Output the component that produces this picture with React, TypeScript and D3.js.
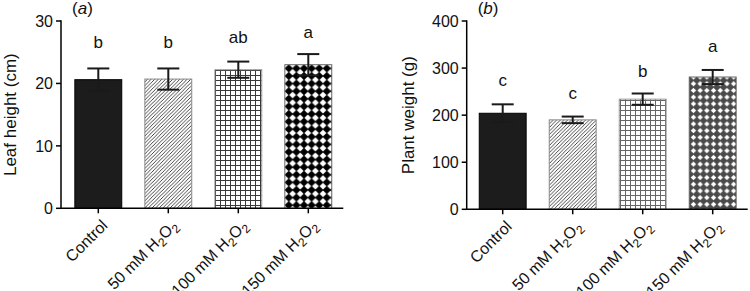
import React from "react";
import * as d3 from "d3";

const categories = ["Control", "50 mM H2O2", "100 mM H2O2", "150 mM H2O2"];
const leafMeans = [20.6, 20.7, 22.2, 23.0];
const leafErr = [1.8, 1.7, 1.3, 1.7];
const leafLetters = ["b", "b", "ab", "a"];
const leafLetterY = [25.6, 25.6, 26.4, 27.2];
const leafTicks = [0, 10, 20, 30];

const weightMeans = [204, 190, 234, 281];
const weightErr = [19, 7, 12, 15];
const weightLetters = ["c", "c", "b", "a"];
const weightLetterY = [262, 234, 281.5, 335];
const weightTicks = [0, 100, 200, 300, 400];

const FONT = "'Liberation Sans', Arial, Helvetica, sans-serif";

type PanelProps = {
  id: string;
  tag: string;
  yLabel: string;
  means: number[];
  errs: number[];
  letters: string[];
  letterY: number[];
  ticks: number[];
  yMax: number;
  axisX: number;
  xRange: [number, number];
  yRange: [number, number];
  labelX: number;
  diamondBg: string;
  diamondSize: number;
  diamondFrac: number;
  gridColor: string;
};

function CatLabel({ name }: { name: string }) {
  if (name.indexOf("H2O2") < 0) return <>{name}</>;
  const pre = name.replace("H2O2", "");
  return (
    <>
      {pre}H
      <tspan dy="4" fontSize="12">2</tspan>
      <tspan dy="-4">O</tspan>
      <tspan dy="4" fontSize="12">2</tspan>
    </>
  );
}

function Panel(p: PanelProps) {
  const x = d3
    .scaleBand<string>()
    .domain(categories)
    .range(p.xRange)
    .paddingInner(0.33)
    .paddingOuter(0.165);
  const y = d3.scaleLinear().domain([0, p.yMax]).range(p.yRange);
  const y0 = y(0);
  const bw = x.bandwidth();
  const fills = [
    "#1c1c1c",
    `url(#hatch-${p.id})`,
    `url(#grid-${p.id})`,
    `url(#diam-${p.id})`,
  ];
  const strokes = ["#000", "#888", "#999", "#666"];
  const ds = p.diamondSize;
  const r = ds * p.diamondFrac;
  return (
    <g>
      <defs>
        <pattern id={`hatch-${p.id}`} patternUnits="userSpaceOnUse" width="3.6" height="3.6">
          <rect width="3.6" height="3.6" fill="#fff" />
          <path d="M-1,1 l2,-2 M0,3.6 l3.6,-3.6 M2.6,4.6 l2,-2" stroke="#333" strokeWidth="0.9" />
        </pattern>
        <pattern id={`grid-${p.id}`} patternUnits="userSpaceOnUse" width="5" height="5">
          <rect width="5" height="5" fill="#fff" />
          <path d="M0,0.5 H5 M0.5,0 V5" stroke={p.gridColor} strokeWidth="1" />
        </pattern>
        <pattern id={`diam-${p.id}`} patternUnits="userSpaceOnUse" width={ds} height={ds}>
          <rect width={ds} height={ds} fill={p.diamondBg} />
          <polygon
            points={`${ds / 2},${ds / 2 - r} ${ds / 2 + r},${ds / 2} ${ds / 2},${ds / 2 + r} ${ds / 2 - r},${ds / 2}`}
            fill="#fff"
          />
        </pattern>
      </defs>
      {categories.map((c, i) => {
        const bx = x(c)!;
        const top = y(p.means[i]);
        return (
          <rect key={c} x={bx} y={top} width={bw} height={y0 - top} fill={fills[i]} stroke={strokes[i]} strokeWidth={1} />
        );
      })}
      {categories.map((c, i) => {
        const cx = x(c)! + bw / 2;
        const hi = y(p.means[i] + p.errs[i]);
        const lo = y(p.means[i] - p.errs[i]);
        return (
          <g key={c} stroke="#1a1a1a" strokeWidth={2}>
            <line x1={cx} x2={cx} y1={hi} y2={lo} />
            <line x1={cx - 11} x2={cx + 11} y1={hi} y2={hi} />
            <line x1={cx - 11} x2={cx + 11} y1={lo} y2={lo} />
          </g>
        );
      })}
      {categories.map((c, i) => (
        <text key={c} x={x(c)! + bw / 2} y={y(p.letterY[i])} textAnchor="middle" fontSize="17" fontFamily={FONT} fill="#111">
          {p.letters[i]}
        </text>
      ))}
      {/* y axis */}
      <line x1={p.axisX} x2={p.axisX} y1={y(p.yMax) - 0.75} y2={y0 + 0.75} stroke="#000" strokeWidth={1.5} />
      {p.ticks.map((t) => (
        <g key={t}>
          <line x1={p.axisX - 5} x2={p.axisX} y1={y(t)} y2={y(t)} stroke="#000" strokeWidth={1.5} />
          <text x={p.axisX - 8} y={y(t)} dy="0.36em" textAnchor="end" fontSize="16" fontFamily={FONT} fill="#111">
            {t}
          </text>
        </g>
      ))}
      {/* x axis */}
      <line x1={p.axisX} x2={p.xRange[1]} y1={y0} y2={y0} stroke="#000" strokeWidth={1.5} />
      {categories.map((c) => {
        const cx = x(c)! + bw / 2;
        return (
          <g key={c}>
            <line x1={cx} x2={cx} y1={y0} y2={y0 + 5} stroke="#000" strokeWidth={1.5} />
            <text
              transform={`translate(${cx + 2},${y0 + 10}) rotate(-45)`}
              textAnchor="end"
              dy="0.72em"
              fontSize="16"
              fontFamily={FONT}
              fill="#111"
            >
              <CatLabel name={c} />
            </text>
          </g>
        );
      })}
      <text
        transform={`translate(${p.labelX},${(y(p.yMax) + y0) / 2}) rotate(-90)`}
        textAnchor="middle"
        dy="0.35em"
        fontSize="17"
        fontFamily={FONT}
        fill="#111"
      >
        {p.yLabel}
      </text>
      <text x={p.axisX + 11} y={14} fontSize="17" fontFamily={FONT} fill="#111">
        (<tspan fontStyle="italic">{p.tag}</tspan>)
      </text>
    </g>
  );
}

export default function App() {
  return (
    <svg
      width={750}
      height={291}
      style={{ position: "absolute", left: 0, top: 0, background: "#fff" }}
    >
      <rect width={750} height={291} fill="#fff" />
      <Panel
        id="a"
        tag="a"
        yLabel="Leaf height (cm)"
        means={leafMeans}
        errs={leafErr}
        letters={leafLetters}
        letterY={leafLetterY}
        ticks={leafTicks}
        yMax={30}
        axisX={61}
        xRange={[63.3, 343.3]}
        yRange={[208.3, 21]}
        labelX={10}
        diamondBg="#000"
        diamondSize={7.6}
        diamondFrac={0.45}
        gridColor="#3a3a3a"
      />
      <Panel
        id="b"
        tag="b"
        yLabel="Plant weight (g)"
        means={weightMeans}
        errs={weightErr}
        letters={weightLetters}
        letterY={weightLetterY}
        ticks={weightTicks}
        yMax={400}
        axisX={466.7}
        xRange={[467.7, 747.7]}
        yRange={[209.3, 21]}
        labelX={408}
        diamondBg="#4a4a4a"
        diamondSize={6.7}
        diamondFrac={0.4}
        gridColor="#666"
      />
    </svg>
  );
}
